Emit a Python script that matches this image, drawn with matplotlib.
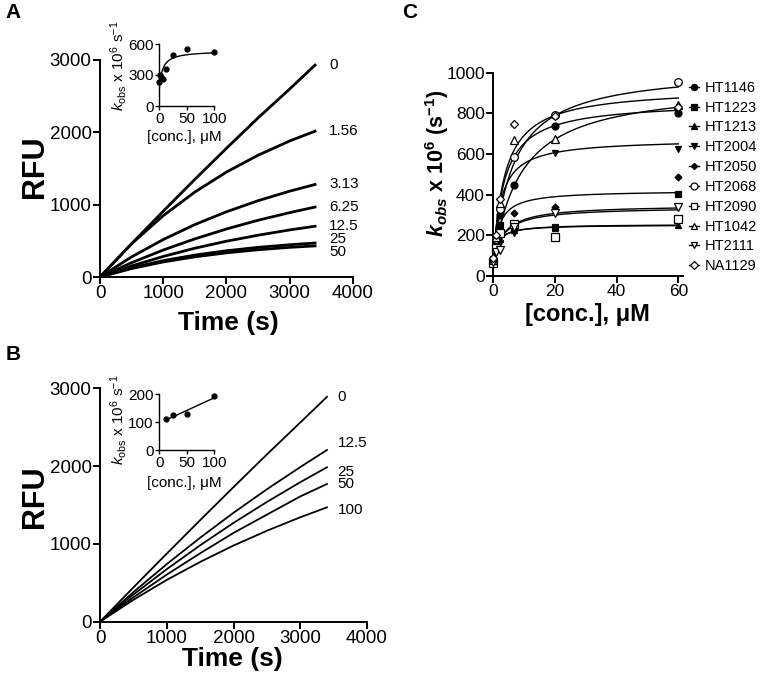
import numpy as np
import matplotlib
matplotlib.use("Agg")
import matplotlib.pyplot as plt
from matplotlib.lines import Line2D

plt.rcParams['font.family'] = ['Liberation Sans', 'DejaVu Sans']
plt.rcParams['mathtext.fontset'] = 'custom'
plt.rcParams['mathtext.rm'] = 'Liberation Sans'
plt.rcParams['mathtext.it'] = 'Liberation Sans:italic'
plt.rcParams['mathtext.bf'] = 'Liberation Sans:bold'
plt.rcParams['mathtext.bfit'] = 'Liberation Sans:italic:bold'

# ---- Panel A : progress curves (RFU vs time) ----
time_s = [0, 500, 1000, 1500, 2000, 2500, 3000, 3400]
a_labels = ['0', '1.56', '3.13', '6.25', '12.5', '25', '50']
a_rfu_0 = [0, 460, 910, 1350, 1780, 2200, 2600, 2930]
a_rfu_1p56 = [0, 460, 848, 1175, 1451, 1684, 1881, 2016]
a_rfu_3p13 = [0, 278, 518, 725, 902, 1055, 1187, 1279]
a_rfu_6p25 = [0, 198, 373, 527, 664, 785, 890, 967]
a_rfu_12p5 = [0, 153, 284, 398, 495, 578, 651, 702]
a_rfu_25 = [0, 127, 226, 303, 363, 410, 446, 470]
a_rfu_50 = [0, 117, 208, 279, 334, 377, 410, 430]

# inset A: kobs vs concentration
a_conc = [0, 1.56, 3.13, 6.25, 12.5, 25, 50, 100]
a_kobs = [235, 300, 280, 261, 355, 494, 548, 519]
a_fit_k0, a_fit_kmax, a_fit_km = 170, 535, 6.0

# ---- Panel B ----
b_labels = ['0', '12.5', '25', '50', '100']
b_rfu_0 = [0, 440, 875, 1305, 1730, 2150, 2560, 2890]
b_rfu_12p5 = [0, 380, 740, 1079, 1400, 1702, 1987, 2207]
b_rfu_25 = [0, 348, 675, 982, 1270, 1539, 1793, 1985]
b_rfu_50 = [0, 312, 605, 879, 1141, 1376, 1610, 1770]
b_rfu_100 = [0, 281, 537, 768, 979, 1169, 1342, 1470]

b_conc = [12.5, 25, 50, 100]
b_kobs = [112, 124, 128, 193]

# ---- Panel C ----
c_conc = [0, 0.74, 2.22, 6.67, 20, 60]
c_names = ['HT1146', 'HT1223', 'HT1213', 'HT2004', 'HT2050',
           'HT2068', 'HT2090', 'HT1042', 'HT2111', 'NA1129']
kobs_ht1146 = [75, 160, 300, 448, 738, 800]
kobs_ht1223 = [80, 170, 250, 235, 243, 402]
kobs_ht1213 = [70, 150, 180, 225, 235, 251]
kobs_ht2004 = [85, 140, 160, 212, 607, 623]
kobs_ht2050 = [75, 130, 200, 308, 341, 485]
kobs_ht2068 = [70, 180, 330, 584, 790, 956]
kobs_ht2090 = [65, 140, 210, 254, 193, 282]
kobs_ht1042 = [80, 190, 360, 669, 672, 842]
kobs_ht2111 = [70, 120, 130, 240, 308, 338]
kobs_na1129 = [90, 200, 380, 746, 789, 830]
fit_k0 = [70, 70, 70, 70, 70, 70, 70, 70, 70, 70]
fit_kmax = [859, 421, 252, 674, 340, 1023, 255, 945, 350, 926]
fit_km = [3.55, 1.94, 1.44, 2.5, 3.46, 6.5, 1.6, 9.05, 3.52, 3.77]

W, H = 760, 680
fig = plt.figure(figsize=(W / 100, H / 100), dpi=100)


def box(l, t, r, b):
    return [l / W, 1 - b / H, (r - l) / W, (b - t) / H]


def style(ax, lw, tl, fs):
    for s in ['top', 'right']:
        ax.spines[s].set_visible(False)
    for s in ['left', 'bottom']:
        ax.spines[s].set_linewidth(lw)
    ax.tick_params(direction='out', length=tl, width=lw, labelsize=fs, pad=1)


def hyper(c, k0, kmax, km):
    return k0 + (kmax - k0) * c / (km + c)


# Panel A
axA = fig.add_axes(box(100, 60, 353, 277))
for y in [a_rfu_0, a_rfu_1p56, a_rfu_3p13, a_rfu_6p25, a_rfu_12p5, a_rfu_25, a_rfu_50]:
    axA.plot(time_s, y, color='black', lw=2.0)
a_off = [0, 0, 0, 0, 0, 50, -85]
for lab, y, d in zip(a_labels, [a_rfu_0, a_rfu_1p56, a_rfu_3p13, a_rfu_6p25,
                                 a_rfu_12p5, a_rfu_25, a_rfu_50], a_off):
    axA.text(3620, y[-1] + d, lab, fontsize=11, va='center', ha='left')
axA.set_xlim(0, 4000)
axA.set_ylim(0, 3000)
axA.set_xticks([0, 1000, 2000, 3000, 4000])
axA.set_yticks([0, 1000, 2000, 3000])
style(axA, 1.4, 5, 13.5)

insA = fig.add_axes(box(159.3, 44, 214.3, 106))
insA.set_facecolor('none')
cc = np.linspace(0, 100, 200)
insA.plot(cc, hyper(cc, a_fit_k0, a_fit_kmax, a_fit_km), color='black', lw=1)
insA.plot(a_conc, a_kobs, 'o', color='black', ms=3.5, clip_on=False)
insA.set_xlim(0, 100)
insA.set_ylim(0, 600)
insA.set_xticks([0, 50, 100])
insA.set_yticks([0, 300, 600])
style(insA, 1.0, 3, 11)

# Panel B
axB = fig.add_axes(box(100, 388.3, 367, 621.7))
for y in [b_rfu_0, b_rfu_12p5, b_rfu_25, b_rfu_50, b_rfu_100]:
    axB.plot(time_s, y, color='black', lw=1.3)
b_off = [0, 85, -55, 0, -30]
for lab, y, d in zip(b_labels, [b_rfu_0, b_rfu_12p5, b_rfu_25, b_rfu_50, b_rfu_100], b_off):
    axB.text(3560, y[-1] + d, lab, fontsize=11, va='center', ha='left')
axB.set_xlim(0, 4000)
axB.set_ylim(0, 3000)
axB.set_xticks([0, 1000, 2000, 3000, 4000])
axB.set_yticks([0, 1000, 2000, 3000])
style(axB, 1.4, 5, 13.5)

insB = fig.add_axes(box(159.3, 394.3, 214.3, 450))
insB.set_facecolor('none')
slope, icpt = np.polyfit(b_conc, b_kobs, 1)
cl = np.array([b_conc[0], b_conc[-1]])
insB.plot(cl, slope * cl + icpt, color='black', lw=1)
insB.plot(b_conc, b_kobs, 'o', color='black', ms=3.5, clip_on=False)
insB.set_xlim(0, 100)
insB.set_ylim(0, 200)
insB.set_xticks([0, 50, 100])
insB.set_yticks([0, 100, 200])
style(insB, 1.0, 3, 11)

# Panel C
axC = fig.add_axes(box(493.3, 72.7, 683.3, 276))
c_series = [kobs_ht1146, kobs_ht1223, kobs_ht1213, kobs_ht2004, kobs_ht2050,
            kobs_ht2068, kobs_ht2090, kobs_ht1042, kobs_ht2111, kobs_na1129]
markers = ['o', 's', '^', 'v', 'D', 'o', 's', '^', 'v', 'D']
filled = [True] * 5 + [False] * 5
sizes = [5, 5, 5, 5, 3.5, 5.5, 5.5, 5.5, 5.5, 4.5]
cf = np.linspace(0, 60, 300)
handles = []
for i, ys in enumerate(c_series):
    axC.plot(cf, hyper(cf, fit_k0[i], fit_kmax[i], fit_km[i]), color='black', lw=1)
    fc = 'black' if filled[i] else 'white'
    axC.plot(c_conc, ys, linestyle='none', marker=markers[i], ms=sizes[i],
             mfc=fc, mec='black', mew=0.9, clip_on=False, zorder=3)
    handles.append(Line2D([], [], color='black', lw=1, marker=markers[i],
                          ms=sizes[i] * 0.9, mfc=fc, mec='black', mew=0.9))
axC.set_xlim(0, 61.6)
axC.set_ylim(0, 1000)
axC.set_xticks([0, 20, 40, 60])
axC.set_yticks([0, 200, 400, 600, 800, 1000])
style(axC, 1.4, 5, 12.5)
axC.legend(handles, c_names, loc='upper left', bbox_to_anchor=(1.03, 0.96),
           frameon=False, fontsize=10.5, handlelength=0.7, handletextpad=0.4,
           labelspacing=0.4, borderaxespad=0, borderpad=0)

# labels
fig.text(13 / W, 1 - 12 / H, 'A', fontsize=15, fontweight='bold', ha='center', va='center')
fig.text(13 / W, 1 - 354 / H, 'B', fontsize=15, fontweight='bold', ha='center', va='center')
fig.text(410 / W, 1 - 12 / H, 'C', fontsize=15, fontweight='bold', ha='center', va='center')

fig.text(35 / W, 1 - 167 / H, 'RFU', fontsize=22, fontweight='bold', rotation=90,
         ha='center', va='center')
fig.text(228 / W, 1 - 323 / H, 'Time (s)', fontsize=19, fontweight='bold',
         ha='center', va='center')
fig.text(35 / W, 1 - 497 / H, 'RFU', fontsize=22, fontweight='bold', rotation=90,
         ha='center', va='center')
fig.text(232 / W, 1 - 659 / H, 'Time (s)', fontsize=19, fontweight='bold',
         ha='center', va='center')

ins_ylab = r'$\mathit{k}_{\mathrm{obs}}$ x 10$^{6}$ s$^{-1}$'
fig.text(119 / W, 1 - 66 / H, ins_ylab, fontsize=11, rotation=90, ha='center', va='center')
fig.text(119 / W, 1 - 420 / H, ins_ylab, fontsize=11, rotation=90, ha='center', va='center')
fig.text(184 / W, 1 - 137 / H, '[conc.], μM', fontsize=11, ha='center', va='center')
fig.text(184 / W, 1 - 483 / H, '[conc.], μM', fontsize=11, ha='center', va='center')

fig.text(437 / W, 1 - 163 / H,
         r'$\mathbfit{k}_{\mathbfit{obs}}$ x 10$^{\mathbf{6}}$ (s$^{\mathbf{-1}}$)',
         fontsize=15.5, fontweight='bold', rotation=90, ha='center', va='center')
fig.text(587 / W, 1 - 315 / H, '[conc.], μM', fontsize=17, fontweight='bold',
         ha='center', va='center')

fig.savefig('out.png', dpi=100)
